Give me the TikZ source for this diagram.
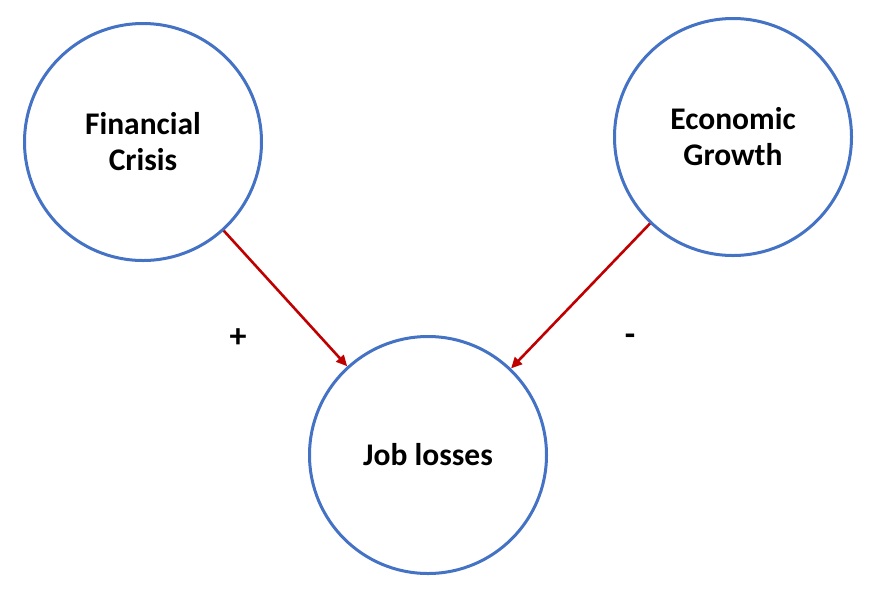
\documentclass[tikz,border=0pt]{standalone}
\usepackage{fontspec}
\setmainfont{Carlito}
\usetikzlibrary{arrows.meta}
\definecolor{circblue}{HTML}{4472C4}
\definecolor{arrred}{HTML}{C00000}
\begin{document}
\begin{tikzpicture}[x=1pt,y=-1pt,
  concept/.style={circle,draw=circblue,line width=3pt,minimum size=237pt,inner sep=0pt,align=center,
    font=\fontsize{31.5}{36}\selectfont\bfseries},
  link/.style={draw=arrred,line width=2.6pt,-{Triangle[length=11pt,width=10pt]}},
  sign/.style={font=\fontsize{34}{40}\selectfont\bfseries}]
\useasboundingbox (0,0) rectangle (881,590);
\node[concept] (fc) at (143,142) {Financial\\Crisis};
\node[concept] (eg) at (733,137) {Economic\\Growth};
\node[concept] (jl) at (428,455) {Job losses};
\draw[link] (fc) -- (jl);
\draw[link] (eg) -- (jl);
\node[sign] (plus) at (238,338) {+};
\node[sign] (minus) at (630,340) {-};
\end{tikzpicture}
\end{document}
